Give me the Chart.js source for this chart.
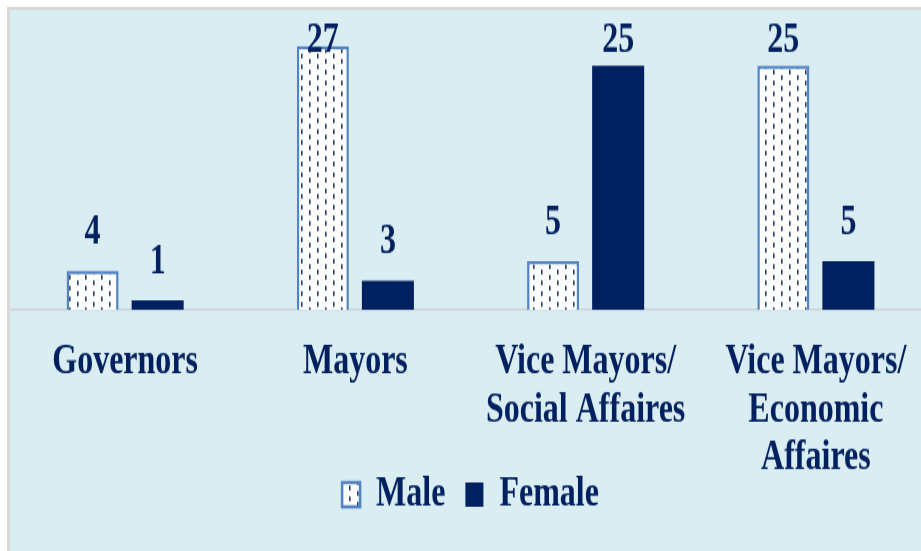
<!DOCTYPE html>
<html>
<head>
<meta charset="utf-8">
<script src="https://cdn.jsdelivr.net/npm/chart.js@4.4.1/dist/chart.umd.min.js"></script>
<style>
html,body{margin:0;padding:0;background:#ffffff;width:921px;height:551px;overflow:hidden;}
#frame{position:absolute;left:7px;top:7px;width:911px;height:541px;border-left:3px solid #d9d9d9;border-top:3px solid #d9d9d9;background:#daedf3;overflow:hidden;}
#stretch{position:absolute;left:0;top:0;width:921px;height:401px;transform:scaleY(1.35);transform-origin:0 0;}
canvas{display:block;}
</style>
</head>
<body>
<div id="frame"><div id="stretch"><canvas id="c" width="921" height="401"></canvas></div></div>
<script>
const categories = [
  ["Governors"],
  ["Mayors"],
  ["Vice Mayors/", "Social Affaires"],
  ["Vice Mayors/", "Economic", "Affaires"]
];
const seriesNames = ["Male", "Female"];
const maleValues = [4, 27, 5, 25];
const femaleValues = [1, 3, 25, 5];
const yMin = 0;
const yMax = 30;

const NAVY = '#002060';
const FONT = '"Liberation Serif", "Times New Roman", serif';

function makePattern() {
  const t = document.createElement('canvas');
  t.width = 16; t.height = 8;
  const g = t.getContext('2d');
  g.fillStyle = '#ffffff';
  g.fillRect(0, 0, 16, 8);
  g.fillStyle = '#1f3a6e';
  g.fillRect(3, 0.3, 1.6, 3.5);
  g.fillRect(11, 4.3, 1.6, 3.5);
  return document.getElementById('c').getContext('2d').createPattern(t, 'repeat');
}

const valueLabels = {
  id: 'valueLabels',
  afterDatasetsDraw(chart) {
    const ctx = chart.ctx;
    ctx.save();
    ctx.font = 'bold 32px ' + FONT;
    ctx.fillStyle = NAVY;
    ctx.textAlign = 'center';
    ctx.textBaseline = 'alphabetic';
    chart.data.datasets.forEach((ds, i) => {
      const meta = chart.getDatasetMeta(i);
      meta.data.forEach((el, j) => {
        const y = Math.max(el.y - 20, 31);
        ctx.fillText(String(ds.data[j]), el.x, y);
      });
    });
    ctx.restore();
  }
};

new Chart(document.getElementById('c'), {
  type: 'bar',
  data: {
    labels: categories,
    datasets: [
      {
        label: seriesNames[0],
        data: maleValues,
        backgroundColor: makePattern(),
        borderColor: '#5283c2',
        borderWidth: 2.5,
        categoryPercentage: 0.565,
        barPercentage: 0.8
      },
      {
        label: seriesNames[1],
        data: femaleValues,
        backgroundColor: NAVY,
        borderWidth: 0,
        categoryPercentage: 0.565,
        barPercentage: 0.8
      }
    ]
  },
  options: {
    responsive: false,
    animation: false,
    devicePixelRatio: 1,
    layout: { padding: { top: 5, bottom: 16, left: 0, right: 0 } },
    plugins: {
      legend: {
        position: 'bottom',
        labels: {
          font: { family: FONT, size: 32, weight: 'bold' },
          color: NAVY,
          boxWidth: 18,
          boxHeight: 18,
          padding: 20
        }
      },
      tooltip: { enabled: false }
    },
    scales: {
      x: {
        grid: { display: false, drawTicks: false },
        border: { display: true, color: '#cdd4d8', width: 1.5 },
        ticks: {
          font: { family: FONT, size: 32, weight: 'bold', lineHeight: 1.11 },
          color: NAVY,
          mirror: true,
          padding: -56.3,
          maxRotation: 0,
          autoSkip: false
        },
        afterFit(s) {
          const lh = s.chart.legend ? s.chart.legend.height : 0;
          s.height = 401 - 16 - lh - 222.2;
        }
      },
      y: {
        display: false,
        min: yMin,
        max: yMax
      }
    }
  },
  plugins: [valueLabels]
});
</script>
</body>
</html>
